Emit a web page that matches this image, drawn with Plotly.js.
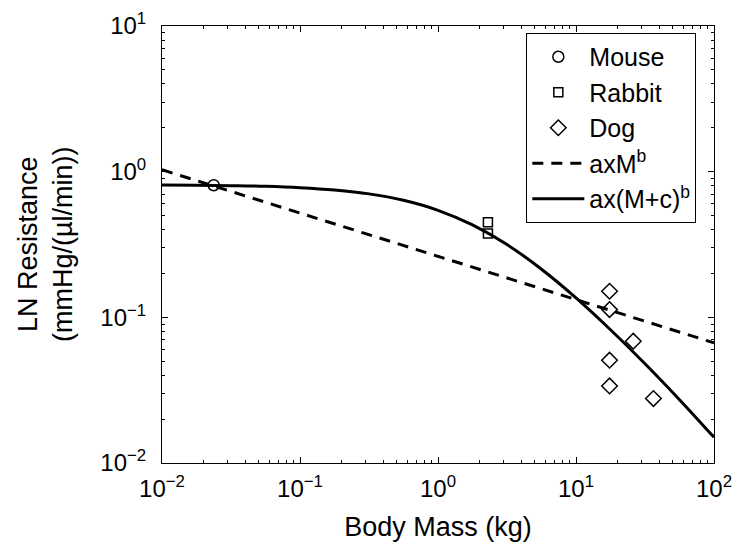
<!DOCTYPE html>
<html>
<head>
<meta charset="utf-8">
<script src="https://cdn.plot.ly/plotly-3.0.1.min.js"></script>
<style>
  html, body { margin: 0; padding: 0; background: #fff; }
  #chart { width: 737px; height: 551px; }
</style>
</head>
<body>
<div id="chart"></div>
<script>
// Measured lymph-node resistance by species (body mass in kg)
const mouseMass = [0.0237];
const mouseRes = [0.807];
const rabbitMass = [2.3, 2.3];
const rabbitRes = [0.45, 0.377];
const dogMass = [17.5, 17.5, 26, 17.5, 17.5, 36.4];
const dogRes = [0.151, 0.113, 0.0686, 0.0508, 0.0338, 0.0277];

// Power-law fit axM^b (straight on log-log axes)
const powerMass = [0.01, 100];
const powerRes = [1.03, 0.0668];

// Shifted power-law fit ax(M+c)^b, sampled along the curve
const shiftMass = [0.01, 0.01778, 0.03162, 0.05623, 0.1, 0.1778, 0.3162, 0.5623,
                   1, 1.778, 3.162, 5.623, 10, 17.78, 31.62, 56.23, 100];
const shiftRes = [0.811, 0.808, 0.802, 0.793, 0.776, 0.748, 0.704, 0.636,
                  0.543, 0.431, 0.316, 0.214, 0.136, 0.0822, 0.0480, 0.0272, 0.0150];

// Axis ticks
const xTickVals = [0.01, 0.1, 1, 10, 100];
const xTickText = ['10<sup>\u22122</sup>', '10<sup>\u22121</sup>', '10<sup>0</sup>', '10<sup>1</sup>', '10<sup>2</sup>'];
const yTickVals = [0.01, 0.1, 1, 10];
const yTickText = ['10<sup>\u22122</sup>', '10<sup>\u22121</sup>', '10<sup>0</sup>', '10<sup>1</sup>'];

// Axis titles
const xTitle = 'Body Mass (kg)';
const yTitle = 'LN Resistance<br>(mmHg/(\u00b5l/min))';

function minorTicks(lo, hi) {
  const out = [];
  for (let e = lo; e < hi; e++) {
    for (let m = 2; m <= 9; m++) out.push(m * Math.pow(10, e));
  }
  return out;
}

const FONT = 'Liberation Sans, Arial, Helvetica, sans-serif';

const traces = [
  {
    x: mouseMass, y: mouseRes, name: 'Mouse', type: 'scatter', mode: 'markers',
    marker: { symbol: 'circle-open', size: 11, color: '#000', line: { width: 1.5, color: '#000' } }
  },
  {
    x: rabbitMass, y: rabbitRes, name: 'Rabbit', type: 'scatter', mode: 'markers',
    marker: { symbol: 'square-open', size: 9, color: '#000', line: { width: 1.5, color: '#000' } }
  },
  {
    x: dogMass, y: dogRes, name: 'Dog', type: 'scatter', mode: 'markers',
    marker: { symbol: 'diamond-open', size: 12, color: '#000', line: { width: 1.5, color: '#000' } }
  },
  {
    x: powerMass, y: powerRes, name: 'axM<sup>b</sup>', type: 'scatter', mode: 'lines',
    line: { color: '#000', width: 3, dash: '11px,8px' }
  },
  {
    x: shiftMass, y: shiftRes, name: 'ax(M+c)<sup>b</sup>', type: 'scatter', mode: 'lines',
    line: { color: '#000', width: 3, shape: 'spline' }
  }
];

const axisCommon = {
  type: 'log',
  showgrid: false,
  zeroline: false,
  showline: true,
  linecolor: '#000',
  linewidth: 1,
  mirror: 'allticks',
  ticks: 'inside',
  ticklen: 6,
  tickwidth: 1,
  tickcolor: '#000',
  tickmode: 'array',
  tickfont: { family: FONT, size: 24, color: '#000' },
  minor: { ticks: 'inside', ticklen: 3, tickwidth: 1, tickcolor: '#000', showgrid: false, tickmode: 'array' }
};

const layout = {
  width: 737,
  height: 551,
  paper_bgcolor: '#fff',
  plot_bgcolor: '#fff',
  margin: { l: 161.5, r: 23, t: 26, b: 88 },
  showlegend: true,
  font: { family: FONT, color: '#000' },
  xaxis: Object.assign({}, axisCommon, {
    range: [-2, 2],
    tickvals: xTickVals,
    ticktext: xTickText,
    ticklabelstandoff: 4,
    minor: Object.assign({}, axisCommon.minor, { tickvals: minorTicks(-2, 2) }),
    title: { text: xTitle, font: { family: FONT, size: 27, color: '#000' }, standoff: 16 }
  }),
  yaxis: Object.assign({}, axisCommon, {
    range: [-2, 1],
    tickvals: yTickVals,
    ticktext: yTickText,
    ticklabelstandoff: 10,
    minor: Object.assign({}, axisCommon.minor, { tickvals: minorTicks(-2, 1) })
  }),
  annotations: [{
    text: yTitle,
    xref: 'paper', yref: 'paper',
    x: -0.211, y: 0.5,
    xanchor: 'center', yanchor: 'middle',
    textangle: -90,
    showarrow: false,
    font: { family: FONT, size: 27, color: '#000' }
  }],
  legend: {
    x: 0.66, y: 0.984, xanchor: 'left', yanchor: 'top',
    bgcolor: '#fff', bordercolor: '#000', borderwidth: 1,
    font: { family: FONT, size: 25, color: '#000' },
    itemwidth: 52,
    tracegroupgap: 0
  }
};

Plotly.newPlot('chart', traces, layout, { displayModeBar: false, staticPlot: true });
</script>
</body>
</html>
